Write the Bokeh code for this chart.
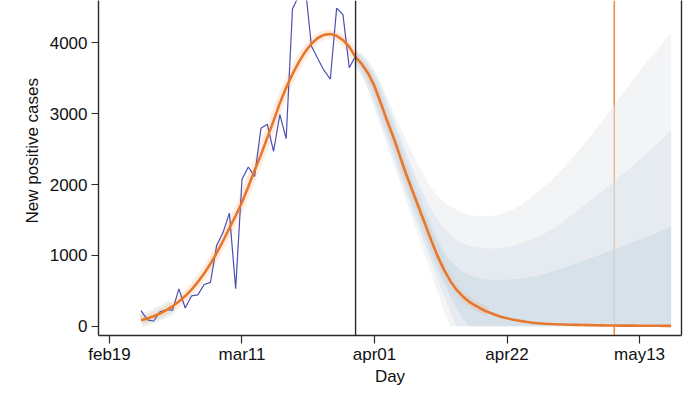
import numpy as np
import pandas as pd
from bokeh.plotting import figure
from bokeh.models import Span, Title, FixedTicker, LinearAxis, Range1d
from bokeh.embed import file_html
from bokeh.resources import INLINE

# ---------------- data ----------------
origin = pd.Timestamp("2020-02-19")
tick_dates = ["2020-02-19", "2020-03-11", "2020-04-01", "2020-04-22", "2020-05-13"]
tick_labels = ["feb19", "mar11", "apr01", "apr22", "may13"]
y_ticks = [0, 1000, 2000, 3000, 4000]

# observed daily new positive cases (Feb 24 - Mar 29)
obs_start = "2020-02-24"
new_cases = [221, 90, 74, 203, 233, 228, 528, 258, 428, 443, 590, 620, 1145, 1326,
             1598, 529, 2076, 2249, 2116, 2795, 2853, 2470, 2989, 2648, 4480, 4670,
             4821, 3957, 3780, 3612, 3491, 4492, 4401, 3651, 3815]

# fitted curve (Feb 24 - May 18)
fit_start = "2020-02-24"
fitted = [85, 110, 141, 179, 226, 281, 348, 426, 518, 624, 745, 882, 1035, 1204, 1385,
          1560, 1750, 1970, 2200, 2420, 2660, 2900, 3150, 3370, 3560, 3730, 3875, 3990,
          4070, 4115, 4127, 4101, 4041, 3947,
          3800, 3700, 3570, 3390, 3150, 2900, 2670, 2410, 2150, 1915, 1680, 1445, 1210,
          990, 800, 640, 515, 420, 345, 290, 240, 200, 165, 135, 112, 92, 76, 62, 50,
          42, 36, 31, 27, 24, 21, 19, 17, 15, 13, 12, 11, 10, 9, 8, 8, 7, 7, 6, 6, 5, 5]

# forecast bands (Mar 29 - May 18)
band_start = "2020-03-29"
outer_hi = [3900, 3830, 3730, 3600, 3420, 3220, 3030, 2830, 2630, 2440, 2260, 2100, 1950,
            1840, 1750, 1690, 1640, 1600, 1575, 1560, 1555, 1558, 1565, 1585, 1615, 1650,
            1700, 1760, 1830, 1900, 1980, 2060, 2150, 2240, 2340, 2440, 2550, 2660, 2770,
            2880, 3000, 3120, 3240, 3360, 3480, 3600, 3710, 3820, 3930, 4040, 4145]
outer_lo = [3700, 3560, 3330, 3080, 2820, 2560, 2300, 2040, 1780, 1520, 1260, 1000, 740,
            480, 220, 0, 0, 0, 0, 0, 0, 0, 0, 0, 0, 0, 0, 0, 0, 0, 0, 0, 0, 0, 0, 0, 0, 0,
            0, 0, 0, 0, 0, 0, 0, 0, 0, 0, 0, 0, 0]
mid_hi = [3870, 3790, 3680, 3530, 3330, 3110, 2900, 2670, 2440, 2220, 2010, 1820, 1650,
          1500, 1380, 1290, 1220, 1170, 1135, 1112, 1100, 1095, 1097, 1103, 1115, 1135,
          1160, 1190, 1225, 1265, 1310, 1360, 1415, 1480, 1550, 1620, 1690, 1760, 1830,
          1900, 1970, 2045, 2120, 2195, 2270, 2350, 2430, 2510, 2590, 2675, 2760]
mid_lo = [3740, 3610, 3420, 3190, 2940, 2680, 2430, 2170, 1910, 1660, 1410, 1160, 910,
          670, 440, 220, 0, 0, 0, 0, 0, 0, 0, 0, 0, 0, 0, 0, 0, 0, 0, 0, 0, 0, 0, 0, 0, 0,
          0, 0, 0, 0, 0, 0, 0, 0, 0, 0, 0, 0, 0]
inner_hi = [3840, 3750, 3630, 3460, 3240, 3000, 2770, 2520, 2270, 2030, 1800, 1580, 1380,
            1200, 1050, 930, 840, 770, 720, 690, 670, 658, 652, 652, 656, 662, 670, 682,
            698, 718, 742, 768, 795, 825, 855, 888, 920, 953, 985, 1018, 1050, 1080, 1115,
            1150, 1185, 1220, 1255, 1290, 1325, 1362, 1400]
inner_lo = [3770, 3660, 3490, 3290, 3050, 2800, 2550, 2290, 2030, 1790, 1540, 1300, 1060,
            830, 620, 430, 260, 110, 0, 0, 0, 0, 0, 0, 0, 0, 0, 0, 0, 0, 0, 0, 0, 0, 0, 0,
            0, 0, 0, 0, 0, 0, 0, 0, 0, 0, 0, 0, 0, 0, 0]

forecast_mark = "2020-05-09"


def day_axis(start, n):
    d = pd.date_range(start, periods=n, freq="D")
    return list((d - origin).days.astype(float))


x_obs = day_axis(obs_start, len(new_cases))
x_fit = day_axis(fit_start, len(fitted))
x_band = day_axis(band_start, len(outer_hi))
tick_x = [float((pd.Timestamp(t) - origin).days) for t in tick_dates]
mark_x = float((pd.Timestamp(forecast_mark) - origin).days)

FONT = "Liberation Sans"

p = figure(frame_width=583, frame_height=335, output_backend="svg",
           toolbar_location=None,
           x_range=Range1d(-1.74, 90.65), y_range=Range1d(-131, 4600),
           min_border_left=98, min_border_right=2, min_border_top=0,
           min_border_bottom=10)
p.outline_line_color = None
p.grid.visible = False
p.background_fill_color = "white"
p.border_fill_color = "white"

# vertical marker at forecast date (under bands)
p.add_layout(Span(location=mark_x, dimension="height", line_color="#e98a43",
                  line_width=1.5, level="underlay"))

# forecast bands
p.varea(x=x_band, y1=outer_lo, y2=outer_hi, fill_color="#e5e9ed", fill_alpha=0.5)
p.varea(x=x_band, y1=mid_lo, y2=mid_hi, fill_color="#d8e2ea", fill_alpha=0.5)
p.varea(x=x_band, y1=inner_lo, y2=inner_hi, fill_color="#c7d7e2", fill_alpha=0.5)

# soft halos
p.line(x_fit[:6], fitted[:6], line_width=14, line_color="#d3e2dc", line_alpha=0.45)
p.line(x_fit[:56], fitted[:56], line_width=9, line_color="#f6a86c", line_alpha=0.22)
p.line(x_fit[34:52], fitted[34:52], line_width=14, line_color="#cfe3f3", line_alpha=0.35)

# observed and fitted
p.line(x_obs, new_cases, line_color="#4d4fb2", line_width=1.2)
p.line(x_fit, fitted, line_color="#e8772e", line_width=2.6)

# last observation marker
p.add_layout(Span(location=x_obs[-1], dimension="height", line_color="#2a2a2a",
                  line_width=1.4))

# axes
ax = p.xaxis[0]
ax.ticker = FixedTicker(ticks=tick_x)
ax.major_label_overrides = {tx: lab for tx, lab in zip(tick_x, tick_labels)}
ax.minor_tick_line_color = None
ax.major_tick_out = 8
ax.major_tick_in = 0
ax.major_label_standoff = 1
ax.axis_label = "Day"
ax.axis_label_standoff = 0
ax.axis_label_text_font_style = "normal"
ax.axis_label_text_font = FONT
ax.axis_label_text_font_size = "17px"
ax.axis_label_text_color = "#111111"

ay = p.yaxis[0]
ay.ticker = FixedTicker(ticks=y_ticks)
ay.minor_tick_line_color = None
ay.major_tick_out = 7
ay.major_tick_in = 0
ay.major_label_standoff = 4
ay.major_label_orientation = "horizontal"

for a in (ax, ay):
    a.axis_line_color = "#2a2a2a"
    a.axis_line_width = 1.4
    a.major_tick_line_color = "#2a2a2a"
    a.major_tick_line_width = 1.2
    a.major_label_text_font = FONT
    a.major_label_text_font_size = "17px"
    a.major_label_text_color = "#111111"

# right frame line
ra = LinearAxis(ticker=FixedTicker(ticks=[]), axis_line_color="#2a2a2a",
                axis_line_width=1.4, major_tick_line_color=None,
                minor_tick_line_color=None, major_tick_out=0, major_tick_in=0,
                major_label_standoff=0, axis_label_standoff=0)
p.add_layout(ra, "right")

# y-axis title (placed like the original, above the frame centre)
p.add_layout(Title(text="New positive cases", align="left", offset=112,
                   text_font=FONT, text_font_size="17px", text_font_style="normal",
                   text_color="#111111", standoff=10), "left")

open("out.html", "w").write(file_html(p, INLINE))
